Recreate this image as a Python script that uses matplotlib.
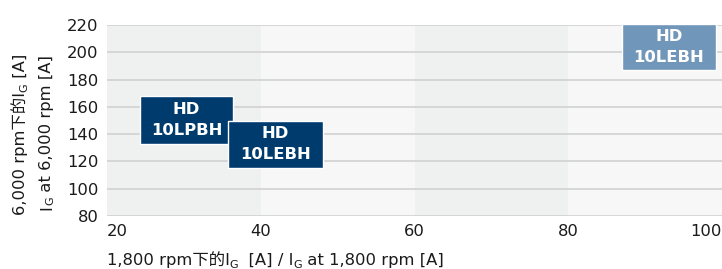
import matplotlib.pyplot as plt
from matplotlib.patches import Rectangle
from matplotlib.transforms import IdentityTransform

plt.rcParams['font.family'] = 'DejaVu Sans'
mixed = ['DejaVu Sans', 'Noto Sans CJK SC']

# product boxes: current range at 1,800 rpm (x) and at 6,000 rpm (y)
names = ['HD\n10LPBH', 'HD\n10LEBH', 'HD\n10LEBH']
x_lo = [24.3, 35.7, 87.0]
x_hi = [36.4, 48.1, 99.2]
y_lo = [133, 115, 187]
y_hi = [168, 150, 221]
box_colors = ['#003b6e', '#003b6e', '#7096ba']

x_ticks = [20, 40, 60, 80, 100]
y_ticks = [80, 100, 120, 140, 160, 180, 200, 220]

fig = plt.figure(figsize=(7.22, 2.69), dpi=100)
ax = fig.add_axes([107 / 722, 1 - 216 / 269, 615 / 722, 191 / 269])
ax.set_xlim(20, 100)
ax.set_ylim(80, 220)

# alternating background bands
for i in range(len(x_ticks) - 1):
    ax.axvspan(x_ticks[i], x_ticks[i + 1],
               color='#eff0f0' if i % 2 == 0 else '#f7f7f7', lw=0, zorder=0)
for y in y_ticks:
    ax.axhline(y, color='#d4d4d4', lw=1.3, zorder=1)

for n, a, b, c, d, col in zip(names, x_lo, x_hi, y_lo, y_hi, box_colors):
    ax.add_patch(Rectangle((a, c), b - a, d - c, facecolor=col,
                           edgecolor='white', lw=1, zorder=3, clip_on=False))
    ax.text((a + b) / 2, (c + d) / 2, n, color='white', fontsize=11.8,
            family='DejaVu Sans', fontweight='bold', ha='center',
            va='center', linespacing=1.5, zorder=4)

for s in ax.spines.values():
    s.set_visible(False)
ax.set_xticks(x_ticks)
ax.set_yticks(y_ticks)
ax.set_xticklabels(['20', '40', '60', '80', '100'])
ax.tick_params(length=0, labelsize=11.8, colors='#1a1a1a', pad=6)
for lab in ax.get_xticklabels() + ax.get_yticklabels():
    lab.set_family('DejaVu Sans')
labs = ax.get_xticklabels()
labs[0].set_ha('left')
labs[-1].set_ha('right')

# axis titles with subscript G, drawn piece by piece
fig.canvas.draw()
r = fig.canvas.get_renderer()


def pieces(parts, x, y, vertical=False):
    for s, sub in parts:
        size = 8 if sub else 11.8
        off = 2.5 if sub else 0
        if vertical:
            t = fig.text(x + off, y, s, fontsize=size, rotation=90,
                         rotation_mode='anchor', ha='left', va='baseline',
                         family=mixed, color='#1a1a1a',
                         transform=IdentityTransform())
            y += t.get_window_extent(r).height
        else:
            t = fig.text(x, y - off, s, fontsize=size, ha='left',
                         va='baseline', family=mixed, color='#1a1a1a',
                         transform=IdentityTransform())
            x += t.get_window_extent(r).width


pieces([('1,800 rpm下的I', False), ('G', True), ('  [A] / I', False),
        ('G', True), (' at 1,800 rpm [A]', False)], 107, 269 - 265)
pieces([('6,000 rpm下的I', False), ('G', True), (' [A]', False)],
       25, 269 - 215, vertical=True)
pieces([('I', False), ('G', True), (' at 6,000 rpm [A]', False)],
       51, 269 - 210, vertical=True)

fig.savefig('out.png', dpi=100)
